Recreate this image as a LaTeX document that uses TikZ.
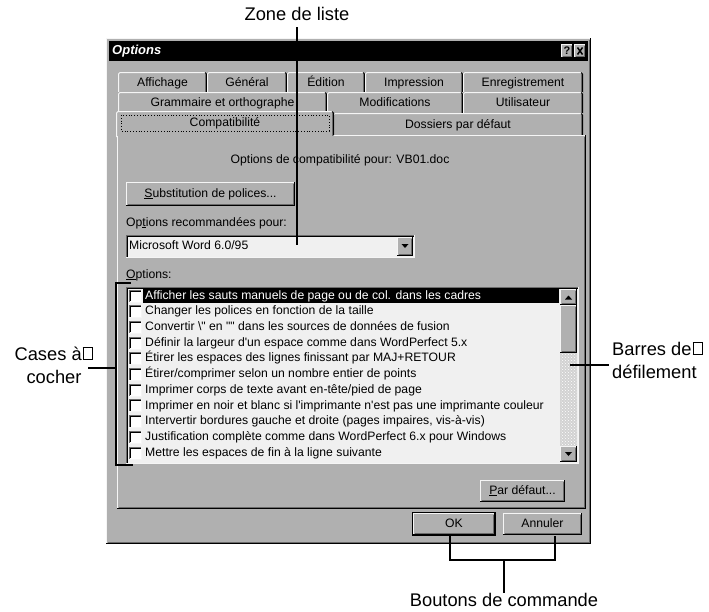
\documentclass[tikz,border=0pt]{standalone}
\usepackage{fontspec}
\newfontfamily\lblfont{Liberation Sans}
\newfontfamily\uifont{Liberation Sans}[Ligatures=TeXOff]
\usetikzlibrary{patterns}
\definecolor{dlg}{gray}{0.69}
\definecolor{hi}{gray}{0.96}
\definecolor{sh}{gray}{0.42}
\definecolor{lst}{gray}{0.94}
\newcommand\nbox{\kern1pt\vbox{\hrule height1.1pt\hbox{\vrule width1.1pt\vbox to 11pt{\vfil}\kern8.5pt\vrule width1.1pt}\hrule height1.1pt}}
\newcommand\winraised[4]{%
 \fill[dlg] (#1,#2) rectangle (#3,#4);
 \draw[hi,line width=1pt] (#1+0.5,#4-0.5) -- (#1+0.5,#2+0.5) -- (#3-0.5,#2+0.5);
 \draw[black,line width=1pt] (#1,#4-0.5) -- (#3-0.5,#4-0.5) -- (#3-0.5,#2);
 \draw[sh,line width=1pt] (#1+1.5,#4-1.5) -- (#3-1.5,#4-1.5) -- (#3-1.5,#2+1.5);
}
\newcommand\winsunken[5]{%
 \fill[#5] (#1,#2) rectangle (#3,#4);
 \draw[sh,line width=1pt] (#1+0.5,#4-0.5) -- (#1+0.5,#2+0.5) -- (#3-0.5,#2+0.5);
 \draw[black,line width=1pt] (#1+1.5,#4-1.5) -- (#1+1.5,#2+1.5) -- (#3-1.5,#2+1.5);
 \draw[hi,line width=1pt] (#1,#4-0.5) -- (#3-0.5,#4-0.5) -- (#3-0.5,#2);
}
\newcommand\wintab[6]{%
 \fill[dlg] (#1,#2) rectangle (#3,#4);
 \draw[hi,line width=1pt] (#1+0.5,#4) -- (#1+0.5,#2+2) -- (#1+2,#2+0.5) -- (#3-2,#2+0.5);
 \draw[black,line width=1pt] (#3-2,#2+0.5) -- (#3-0.5,#2+2) -- (#3-0.5,#4);
 \draw[sh,line width=1pt] (#3-1.5,#2+2) -- (#3-1.5,#4);
 \node[ui] (#6) at ({(#1+#3)/2},{(#2+#4)/2+1}) {#5};
}
\tikzset{
 ui/.style={font=\uifont\fontsize{12.2}{14}\selectfont, inner sep=0pt, text=black, text height=8.8pt, text depth=2.6pt},
 lbl/.style={font=\lblfont\fontsize{18.3}{23}\selectfont, inner sep=0pt, align=center},
 callout/.style={line width=2pt, black},
}
\begin{document}
\begin{tikzpicture}[x=1pt,y=-1pt]
\useasboundingbox (0,0) rectangle (709,611);
\fill[white] (0,0) rectangle (709,611);
% window
\winraised{106}{38}{591}{544}
\fill[black] (109,41) rectangle (588,61);
\node[ui, anchor=west, text=white, font=\uifont\fontsize{13}{14}\selectfont\bfseries\itshape] (title) at (112,51) {Options};
\winraised{561}{44}{573}{58}
\node[ui, font=\uifont\fontsize{11}{12}\selectfont\bfseries] (qm) at (567,51.5) {?};
\winraised{574}{44}{586}{58}
\draw[line width=1.5pt] (577.5,47.5) -- (582.5,54.5) (582.5,47.5) -- (577.5,54.5);
% tabs row 1
\wintab{118}{72}{207}{93}{Affichage}{t1}
\wintab{207}{72}{287}{93}{Général}{t2}
\wintab{287}{72}{365}{93}{Édition}{t3}
\wintab{365}{72}{463}{93}{Impression}{t4}
\wintab{463}{72}{583}{93}{Enregistrement}{t5}
% row 2
\wintab{118}{92}{327}{113}{Grammaire et orthographe}{t6}
\wintab{327}{92}{463}{113}{Modifications}{t7}
\wintab{463}{92}{583}{113}{Utilisateur}{t8}
% row 3
\wintab{333}{113}{583}{136}{Dossiers par défaut}{t10}
% panel
\winraised{117}{135}{586}{509}
% selected tab
\fill[dlg] (116,111) rectangle (334,137);
\draw[hi,line width=1pt] (116.5,137) -- (116.5,113) -- (118,111.5) -- (332,111.5);
\draw[black,line width=1pt] (332,111.5) -- (333.5,113) -- (333.5,135);
\draw[sh,line width=1pt] (332.5,113) -- (332.5,136);
\draw[hi,line width=1pt] (117.5,137) -- (117.5,136);
\draw[black,line width=0.8pt,dotted] (121,115) rectangle (329,131);
\node[ui] (t9) at (225,123) {Compatibilité};
% content
\node[ui] (cmptxt) at (340,160) {Options de compatibilité pour: VB01.doc};
\winraised{126}{182}{295}{206}
\node[ui] (subst) at (210.5,194) {\underline{S}ubstitution de polices...};
\node[ui, anchor=west] (reclbl) at (126,223) {Op\underline{t}ions recommandées pour:};
\winsunken{126}{235}{415}{258}{lst}
\node[ui, anchor=west] (combo) at (129,246.5) {Microsoft Word 6.0/95};
\winraised{397}{237}{413}{256}
\fill[black] (401.5,244) -- (408.5,244) -- (405,248) -- cycle;
\node[ui, anchor=west] (optlbl) at (126,275) {\underline{O}ptions:};
% list box
\winsunken{126}{287}{579}{464}{lst}
\fill[black] (143,289) rectangle (559,303);
\foreach \i/\t in {0/{Afficher les sauts manuels de page ou de col. dans les cadres},
 1/{Changer les polices en fonction de la taille},
 2/{Convertir \textbackslash" en "" dans les sources de données de fusion},
 3/{Définir la largeur d'un espace comme dans WordPerfect 5.x},
 4/{Étirer les espaces des lignes finissant par MAJ+RETOUR},
 5/{Étirer/comprimer selon un nombre entier de points},
 6/{Imprimer corps de texte avant en-tête/pied de page},
 7/{Imprimer en noir et blanc si l'imprimante n'est pas une imprimante couleur},
 8/{Intervertir bordures gauche et droite (pages impaires, vis-à-vis)},
 9/{Justification complète comme dans WordPerfect 6.x pour Windows},
 10/{Mettre les espaces de fin à la ligne suivante}}{
 \pgfmathsetmacro\yy{296+15.7*\i}
 \winsunken{129}{\yy-6.5}{142}{\yy+6.5}{white}
 \ifnum\i=0
  \node[ui, anchor=west, text=white] (item\i) at (145,\yy) {\t};
 \else
  \node[ui, anchor=west] (item\i) at (145,\yy) {\t};
 \fi
}
% scrollbar
\fill[gray!35] (560,305) rectangle (577,446);
\fill[pattern=crosshatch dots, pattern color=white] (560,353) rectangle (577,446);
\winraised{560}{289}{577}{305}
\fill[black] (565,299.5) -- (572,299.5) -- (568.5,295.5) -- cycle;
\winraised{560}{305}{577}{353}
\winraised{560}{446}{577}{462}
\fill[black] (565,452) -- (572,452) -- (568.5,456) -- cycle;
% par defaut
\winraised{480}{480}{565}{502}
\node[ui] (pardef) at (522.5,491) {\underline{P}ar défaut...};
% OK / Annuler
\draw[black,line width=1pt] (412.5,512.5) rectangle (495.5,535.5);
\winraised{413}{513}{495}{535}
\node[ui] (ok) at (454,524) {OK};
\winraised{503}{513}{582}{535}
\node[ui] (annuler) at (542.5,524) {Annuler};
% callouts
\node[lbl] (zl) at (297,14) {Zone de liste};
\coordinate (zlend) at (297,245);
\draw[callout] (297,27) -- (zlend);
\node[lbl] (cac) at (54,365) {Cases à\nbox\\cocher};
\coordinate (cacA) at (131,283);
\coordinate (cacB) at (133,465);
\draw[callout] (cacA) -- (115.5,283) -- (115.5,465) -- (cacB);
\draw[callout] (88,368) -- (115.5,368);
\node[lbl, anchor=west, align=left] (bdd) at (612,360) {Barres de\nbox\\défilement};
\coordinate (bddA) at (570,365);
\draw[callout] (bddA) -- (609,365);
\node[lbl] (bdc) at (504,600) {Boutons de commande};
\coordinate (okc) at (450,536);
\coordinate (anc) at (555,536);
\draw[callout] (okc) -- (450,560) -- (555,560) -- (anc);
\draw[callout] (504,560) -- (bdc.north);
\end{tikzpicture}
\end{document}
